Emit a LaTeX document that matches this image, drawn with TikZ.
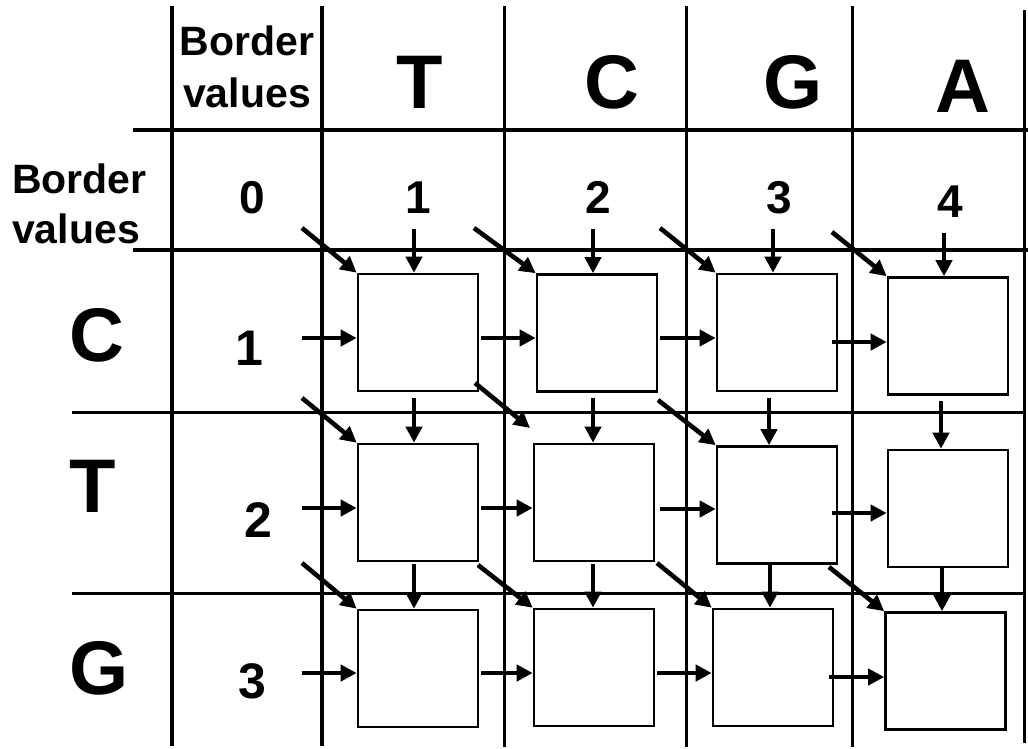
\documentclass[tikz,border=0pt]{standalone}
\usepackage{fontspec}
\setmainfont{Liberation Sans}
\usetikzlibrary{arrows.meta}
\begin{document}
\begin{tikzpicture}[x=1pt,y=-1pt,
  thickrule/.style={line width=4.4pt},
  thinrule/.style={line width=3pt},
  cell/.style={draw, fill=white, line width=2.6pt, minimum width=120pt, minimum height=117pt, inner sep=0pt},
  arr/.style={line width=4.6pt, -{Triangle[length=16pt,width=16pt]}},
  big/.style={font=\bfseries\fontsize{76}{76}\selectfont, inner sep=0pt, anchor=base},
  num/.style={font=\bfseries\fontsize{46}{46}\selectfont, inner sep=0pt, anchor=base},
  lnum/.style={font=\bfseries\fontsize{50}{50}\selectfont, inner sep=0pt, anchor=base},
  lbl/.style={font=\bfseries\fontsize{41}{41}\selectfont, inner sep=0pt}]
\useasboundingbox (0,0) rectangle (1028,748);

% grid
\draw[thickrule] (172,6) -- (172,746);
\draw[thickrule] (322,6) -- (322,746);
\draw[thinrule] (504,6) -- (504,747);
\draw[thinrule] (686,6) -- (686,747);
\draw[thinrule] (852,6) -- (852,747);
\draw[thinrule] (1024,10) -- (1024,743);
\draw[thickrule] (133,130) -- (1028,130);
\draw[thickrule] (133,250) -- (1028,250);
\draw[thinrule] (72,412) -- (1024,412);
\draw[thinrule] (72,593) -- (1024,593);

% header texts
\node[lbl, anchor=base] (tb1) at (247,55) {Border};
\node[lbl, anchor=base] (tv1) at (247,107) {values};
\node[lbl, anchor=base west] (lb1) at (12,193) {Border};
\node[lbl, anchor=base west] (lv1) at (12,243) {values};

\node[big] (cT) at (420,108) {T};
\node[big] (cC) at (612,108) {C};
\node[big] (cG) at (793,108) {G};
\node[big] (cA) at (963,112) {A};

\node[num] (n0) at (252,213) {0};
\node[num] (n1) at (418,213) {1};
\node[num] (n2) at (598,213) {2};
\node[num] (n3) at (779,213) {3};
\node[num] (n4) at (950,217) {4};

\node[big] (rC) at (97,361) {C};
\node[big] (rT) at (93,512) {T};
\node[big] (rG) at (99,694) {G};

\node[lnum] (m1) at (249,365) {1};
\node[lnum] (m2) at (258,537) {2};
\node[lnum] (m3) at (252,698) {3};

% cells
\foreach \n/\x/\y in {11/418/332.5, 12/597/333, 13/777/332.5, 14/948/336,
                      21/418/502.5, 22/594/502.5, 23/777/505, 24/948/508.5,
                      31/418/668.5, 32/594/667.5, 33/773/667.5, 34/945.5/671}
  \node[cell] (b\n) at (\x,\y) {};

% diagonal arrows
\foreach \n/\x/\y in {11/302/228, 12/474/228, 13/660/228, 14/832/232,
                      21/302/398, 23/658/400,
                      31/302/563, 32/478/565, 33/657/563, 34/829/567} {
  \coordinate (g\n) at (\x,\y);
  \draw[arr] (g\n) -- (b\n.north west);
}
\coordinate (g22) at (475,383);
\coordinate (e22) at (530,428);
\draw[arr] (g22) -- (e22);

% vertical arrows
\foreach \n/\x/\y in {11/414/229, 12/593/229, 13/773/229, 14/944/233,
                      21/414/398, 22/593/398, 23/769/398, 24/941/401,
                      31/414/564, 32/593/564, 33/770/564, 34/942/568} {
  \coordinate (v\n) at (\x,\y);
  \draw[arr] (v\n) -- (v\n |- b\n.north);
}

% horizontal arrows
\foreach \n/\x/\y in {11/302/338, 12/481/338, 13/660/338, 14/832/342,
                      21/302/508, 22/481/508, 23/660/509, 24/832/513,
                      31/302/673, 32/481/673, 33/657/673, 34/829/677} {
  \coordinate (h\n) at (\x,\y);
  \draw[arr] (h\n) -- (h\n -| b\n.west);
}
\end{tikzpicture}
\end{document}
